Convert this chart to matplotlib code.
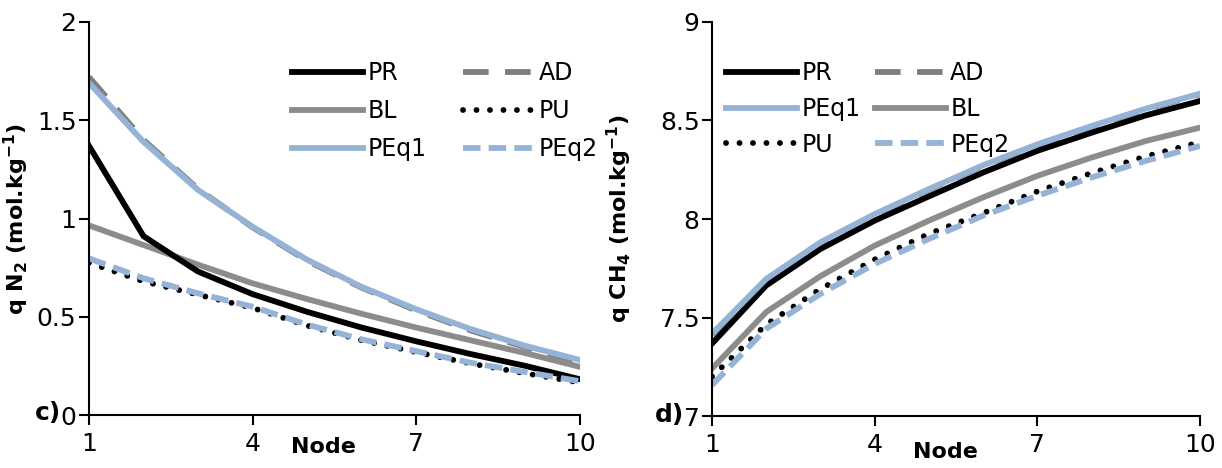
import matplotlib
matplotlib.use('Agg')
import matplotlib.pyplot as plt

# data
nodes = [1, 2, 3, 4, 5, 6, 7, 8, 9, 10]

# c) q N2
n2_pr   = [1.37, 0.91, 0.73, 0.615, 0.525, 0.445, 0.375, 0.31, 0.25, 0.182]
n2_ad   = [1.72, 1.40, 1.15, 0.955, 0.785, 0.648, 0.532, 0.43, 0.345, 0.27]
n2_bl   = [0.965, 0.865, 0.765, 0.67, 0.59, 0.515, 0.445, 0.38, 0.315, 0.245]
n2_pu   = [0.775, 0.68, 0.612, 0.545, 0.455, 0.38, 0.32, 0.262, 0.212, 0.165]
n2_peq1 = [1.69, 1.39, 1.145, 0.958, 0.79, 0.652, 0.538, 0.437, 0.352, 0.28]
n2_peq2 = [0.797, 0.696, 0.619, 0.551, 0.46, 0.385, 0.325, 0.266, 0.219, 0.172]

# d) q CH4
ch4_pr   = [7.368, 7.663, 7.848, 7.992, 8.115, 8.236, 8.346, 8.438, 8.526, 8.599]
ch4_ad   = [7.412, 7.692, 7.878, 8.022, 8.149, 8.27, 8.376, 8.469, 8.557, 8.633]
ch4_bl   = [7.241, 7.528, 7.71, 7.865, 7.992, 8.11, 8.219, 8.312, 8.396, 8.464]
ch4_pu   = [7.2, 7.465, 7.645, 7.795, 7.925, 8.03, 8.14, 8.233, 8.318, 8.39]
ch4_peq1 = [7.418, 7.696, 7.882, 8.025, 8.152, 8.273, 8.379, 8.472, 8.56, 8.636]
ch4_peq2 = [7.157, 7.443, 7.62, 7.772, 7.899, 8.017, 8.118, 8.211, 8.295, 8.371]

blue = '#95b3d7'
lw = 4.2

fig = plt.figure(figsize=(12.22, 4.68), dpi=100)
ax1 = fig.add_axes([0.0728, 0.1132, 0.4018, 0.8398])
ax2 = fig.add_axes([0.5827, 0.1111, 0.3993, 0.8419])


def draw(ax, pr, ad, bl, pu, peq1, peq2):
    h = {}
    h['AD'], = ax.plot(nodes, ad, color='#7f7f7f', lw=lw, dashes=(4.4, 2.8), label='AD')
    h['BL'], = ax.plot(nodes, bl, color='#8c8c8c', lw=lw, label='BL')
    h['PR'], = ax.plot(nodes, pr, color='black', lw=lw, label='PR')
    h['PEq1'], = ax.plot(nodes, peq1, color=blue, lw=lw, label='PEq1')
    h['PU'], = ax.plot(nodes, pu, color='black', lw=lw, dashes=(0.01, 2.3),
                       dash_capstyle='round', label='PU')
    h['PEq2'], = ax.plot(nodes, peq2, color=blue, lw=lw, dashes=(3.0, 1.4), label='PEq2')
    ax.spines['top'].set_visible(False)
    ax.spines['right'].set_visible(False)
    ax.spines['left'].set_linewidth(1.5)
    ax.spines['bottom'].set_linewidth(1.5)
    ax.set_xlim(1, 10)
    ax.set_xticks([1, 4, 7, 10])
    ax.tick_params(axis='both', labelsize=18, length=7, width=1.5, direction='out')
    ax.tick_params(axis='x', pad=5)
    ax.tick_params(axis='y', pad=2)
    return h


h1 = draw(ax1, n2_pr, n2_ad, n2_bl, n2_pu, n2_peq1, n2_peq2)
ax1.set_ylim(0, 2)
ax1.set_yticks([0, 0.5, 1, 1.5, 2])
ax1.set_yticklabels(['0', '0.5', '1', '1.5', '2'])
ax1.set_ylabel('q N$_\\mathbf{2}$ (mol.kg$^{\\mathbf{-1}}$)', fontsize=16, fontweight='bold')
ax1.yaxis.set_label_coords(-0.118, 0.5)
order1 = ['PR', 'BL', 'PEq1', 'AD', 'PU', 'PEq2']
ax1.legend([h1[k] for k in order1], order1, ncol=2, frameon=False, fontsize=17,
           loc='upper left', bbox_to_anchor=(0.37, 0.955), handlelength=3.0,
           columnspacing=1.55, handletextpad=0.2, labelspacing=0.6)

h2 = draw(ax2, ch4_pr, ch4_ad, ch4_bl, ch4_pu, ch4_peq1, ch4_peq2)
ax2.set_ylim(7, 9)
ax2.set_yticks([7, 7.5, 8, 8.5, 9])
ax2.set_yticklabels(['7', '7.5', '8', '8.5', '9'])
ax2.set_ylabel('q CH$_\\mathbf{4}$ (mol.kg$^{\\mathbf{-1}}$)', fontsize=16, fontweight='bold')
ax2.yaxis.set_label_coords(-0.16, 0.5)
order2 = ['PR', 'PEq1', 'PU', 'AD', 'BL', 'PEq2']
ax2.legend([h2[k] for k in order2], order2, ncol=2, frameon=False, fontsize=17,
           loc='upper left', bbox_to_anchor=(-0.015, 0.955), handlelength=3.0,
           columnspacing=0.6, handletextpad=0.2, labelspacing=0.5)

fig.text(323 / 1222, 1 - 447 / 468, 'Node', fontsize=16, fontweight='bold',
         ha='center', va='center')
fig.text(945 / 1222, 1 - 452 / 468, 'Node', fontsize=16, fontweight='bold',
         ha='center', va='center')
fig.text(48 / 1222, 1 - 413 / 468, 'c)', fontsize=18, fontweight='bold',
         ha='center', va='center')
fig.text(670 / 1222, 1 - 415 / 468, 'd)', fontsize=18, fontweight='bold',
         ha='center', va='center')

fig.savefig('out.png', dpi=100)
